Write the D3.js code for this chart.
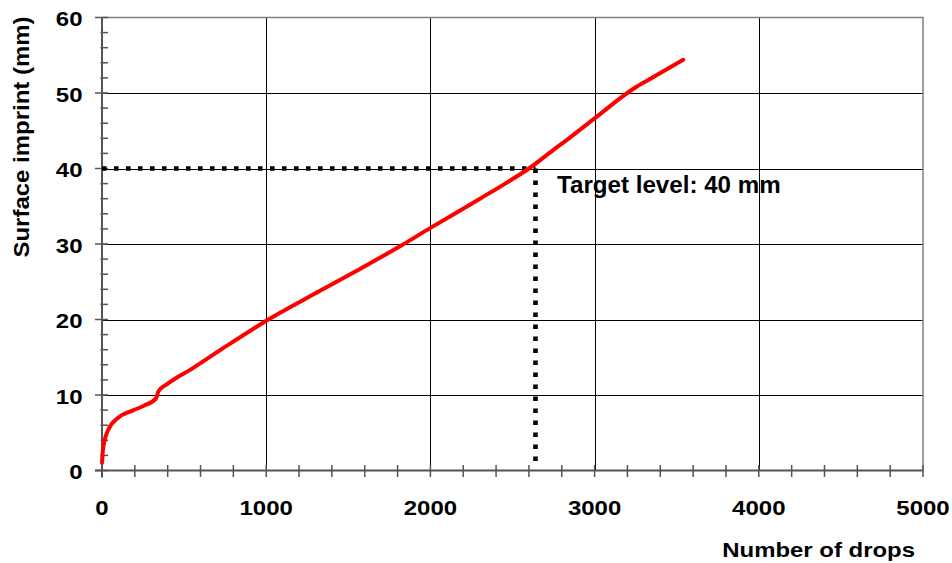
<!DOCTYPE html>
<html>
<head>
<meta charset="utf-8">
<script src="https://cdn.jsdelivr.net/npm/d3@7"></script>
<style>
  html, body { margin: 0; padding: 0; background: #fff; }
  svg text { font-family: "Liberation Sans", Arial, sans-serif; font-weight: bold; fill: #000; }
</style>
</head>
<body>
<svg id="chart" width="952" height="563"></svg>
<script>
// Drop-weight test: surface imprint depth versus number of drops
const drops   = [0, 5, 12, 38, 99, 181, 252, 329, 343, 394, 556, 759, 1013, 1328, 1571, 1815, 1998, 2302, 2485, 2607, 2769, 2850, 2992, 3246, 3337, 3540];
const imprint = [1.0, 2.6, 3.6, 5.4, 7.0, 7.9, 8.55, 9.55, 10.45, 11.4, 13.6, 16.5, 20.0, 23.8, 26.7, 29.7, 32.1, 36.0, 38.4, 40.1, 42.8, 44.1, 46.5, 50.7, 51.85, 54.4];

const xTicks = [0, 1000, 2000, 3000, 4000, 5000];
const yTicks = [0, 10, 20, 30, 40, 50, 60];
const targetLevel = 40;
const targetDrops = 2640;
const targetLabel = "Target level: 40 mm";
const xTitle = "Number of drops";
const yTitle = "Surface imprint (mm)";

const svg = d3.select("#chart");
const x = d3.scaleLinear().domain([0, 5000]).range([102, 923]);
const y = d3.scaleLinear().domain([0, 60]).range([470.5, 17.5]);

// bold labels use a slightly widened face
function label(parent, px, py, k, rotate, size, anchor, str) {
  return parent.append("text")
    .attr("transform", `translate(${px},${py})${rotate ? " rotate(-90)" : ""} scale(${k},1)`)
    .attr("text-anchor", anchor)
    .attr("font-size", size)
    .text(str);
}

// grid lines
const grid = svg.append("g");
grid.selectAll("line.vx").data(xTicks.filter(d => d > 0 && d < 5000)).join("line")
  .attr("x1", d => Math.round(x(d)) + 0.5).attr("x2", d => Math.round(x(d)) + 0.5)
  .attr("y1", y(60)).attr("y2", y(0))
  .attr("stroke", "#000").attr("stroke-width", 1);
grid.selectAll("line.hy").data(yTicks.filter(d => d > 0 && d < 60)).join("line")
  .attr("x1", x(0)).attr("x2", x(5000))
  .attr("y1", d => Math.round(y(d)) + 0.5).attr("y2", d => Math.round(y(d)) + 0.5)
  .attr("stroke", "#000").attr("stroke-width", 1);

// plot frame (top and right)
svg.append("path")
  .attr("d", `M${x(0)},${y(60)}H${x(5000)}V${y(0)}`)
  .attr("fill", "none").attr("stroke", "#808080").attr("stroke-width", 1.5);

// y axis: major ticks cross the axis, minor ticks every 2 mm point inward
const yAxis = svg.append("g");
yAxis.selectAll("line").data(d3.range(0, 61, 2)).join("line")
  .attr("x1", d => yTicks.includes(d) ? x(0) - 7 : x(0) - 1.5)
  .attr("x2", x(0) + 6)
  .attr("y1", d => y(d)).attr("y2", d => y(d))
  .attr("stroke", "#555").attr("stroke-width", 1.5);
yAxis.append("line")
  .attr("x1", x(0)).attr("x2", x(0)).attr("y1", y(60)).attr("y2", y(0) + 7)
  .attr("stroke", "#555").attr("stroke-width", 2);
yTicks.forEach(d => label(yAxis, 82.5, y(d) + 8.5, 1.2, false, 20, "end", d));

// x axis: ticks every 200 drops crossing the axis
const xAxis = svg.append("g");
xAxis.selectAll("line").data(d3.range(0, 5001, 200)).join("line")
  .attr("x1", d => x(d)).attr("x2", d => x(d))
  .attr("y1", y(0) - 5.5).attr("y2", y(0) + 6.5)
  .attr("stroke", "#555").attr("stroke-width", 1.5);
xAxis.append("line")
  .attr("x1", x(0) - 7).attr("x2", x(5000)).attr("y1", y(0)).attr("y2", y(0))
  .attr("stroke", "#555").attr("stroke-width", 2);
xTicks.forEach(d => label(xAxis, x(d), 515, 1.2, false, 20, "middle", d));

// axis titles
label(svg, 915, 557, 1.14, false, 21, "end", xTitle);
label(svg, 29, 137, 1.09, true, 22, "middle", yTitle);

// target level guide lines
const guide = svg.append("g")
  .attr("fill", "none").attr("stroke", "#000").attr("stroke-width", 4.6)
  .attr("stroke-dasharray", "4.6 7.4");
guide.append("line")
  .attr("x1", x(0)).attr("x2", x(targetDrops))
  .attr("y1", y(targetLevel)).attr("y2", y(targetLevel));
guide.append("line")
  .attr("x1", x(targetDrops)).attr("x2", x(targetDrops))
  .attr("y1", y(targetLevel)).attr("y2", y(0) - 4);

// measured curve
const line = d3.line()
  .x((d, i) => x(drops[i]))
  .y(d => y(d))
  .curve(d3.curveMonotoneX);
svg.append("path")
  .datum(imprint)
  .attr("d", line)
  .attr("fill", "none").attr("stroke", "#ff0000").attr("stroke-width", 4)
  .attr("stroke-linecap", "round").attr("stroke-linejoin", "round");

label(svg, 557, 193, 1.05, false, 23, "start", targetLabel);
</script>
</body>
</html>
